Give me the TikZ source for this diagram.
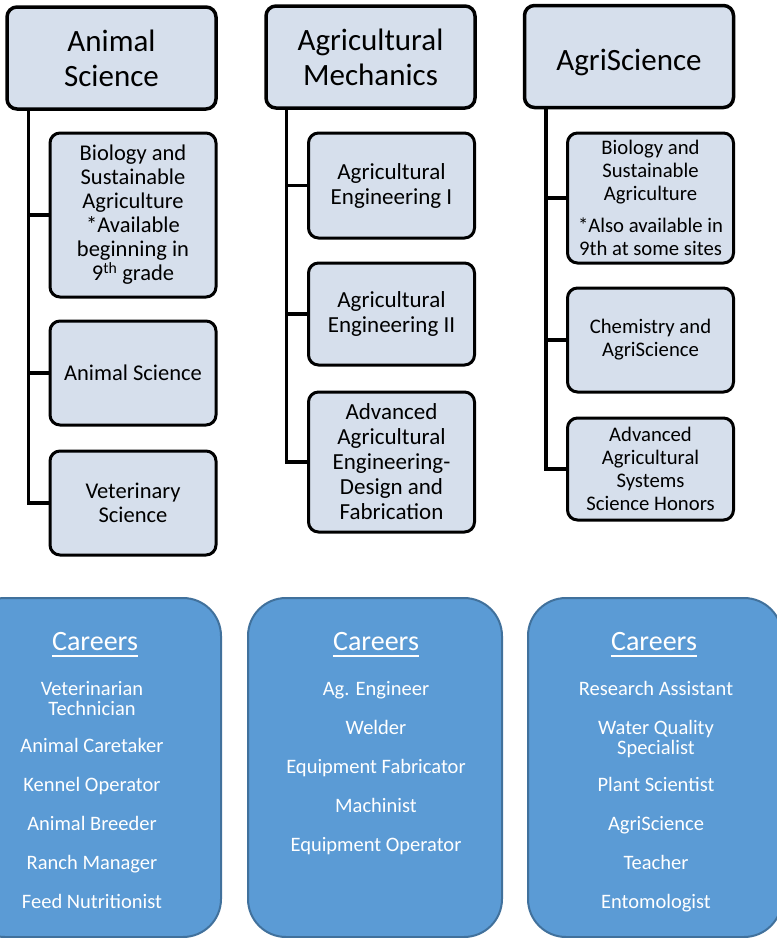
\documentclass[tikz,border=0pt]{standalone}
\usepackage{fontspec}
\setmainfont{Carlito}
\definecolor{lightbox}{HTML}{D6DFEC}
\definecolor{careerfill}{HTML}{5B9BD5}
\definecolor{careerline}{HTML}{41719C}

\begin{document}
\begin{tikzpicture}[x=1pt,y=-1pt,
   head/.style={draw=black,fill=lightbox,line width=3.5pt,rounded corners=10pt,minimum width=209pt,minimum height=102pt,inner sep=0pt,align=center,font=\fontsize{31}{35}\selectfont},
   course/.style={draw=black,fill=lightbox,line width=3pt,rounded corners=10pt,minimum width=166pt,inner sep=0pt,align=center,font=\fontsize{22.5}{24}\selectfont},
   link/.style={black,line width=3.5pt},
   careerbox/.style={draw=careerline,fill=careerfill,line width=2pt,rounded corners=38pt,minimum width=254pt,minimum height=339pt},
   careertitle/.style={text=white,inner sep=0pt,anchor=base,font=\fontsize{28}{30}\selectfont},
   careerlist/.style={text=white,inner sep=0pt,anchor=north,align=center,font=\fontsize{20.5}{20}\selectfont}]
   \useasboundingbox (0,0) rectangle (777,938);
   % headers
   \node[head] (hAnimal) at (111.5,58) {Animal\\Science};
   \node[head] (hMech) at (370.5,57) {Agricultural\\Mechanics};
   \node[head,text height=27pt,text depth=0pt] (hAgri) at (629,56.5) {AgriScience};
   % courses
   \node[course,minimum height=164pt] (bioA) at (133,215) {Biology and\\Sustainable\\Agriculture\\*Available\\beginning in\\9\textsuperscript{th} grade};
   \node[course,minimum height=104pt] (anSci) at (133,373) {Animal Science};
   \node[course,minimum height=104pt] (vet) at (133,503) {Veterinary\\Science};
   \node[course,minimum height=105pt,font=\fontsize{23}{25}\selectfont] (engOne) at (391.5,185.5) {Agricultural\\Engineering I};
   \node[course,minimum height=102pt,font=\fontsize{23}{25}\selectfont] (engTwo) at (391.5,314) {Agricultural\\Engineering II};
   \node[course,minimum height=140pt,font=\fontsize{23}{25}\selectfont] (advEng) at (391.5,462) {Advanced\\Agricultural\\Engineering-\\Design and\\Fabrication};
   \node[course,minimum height=130pt,font=\fontsize{20.7}{23}\selectfont] (bioC) at (650.5,198) {Biology and\\Sustainable\\Agriculture\\[9pt]*Also available in\\9th at some sites};
   \node[course,minimum height=104pt,font=\fontsize{20.7}{23}\selectfont] (chem) at (650.5,340) {Chemistry and\\AgriScience};
   \node[course,minimum height=102pt,font=\fontsize{20.7}{23}\selectfont] (advSys) at (650.5,469) {Advanced\\Agricultural\\Systems\\Science Honors};
   % tree lines
   \draw[link] ([xshift=23pt]hAnimal.south west) |- (bioA.west);
   \draw[link] ([xshift=23pt]hAnimal.south west) |- (anSci.west);
   \draw[link] ([xshift=23pt]hAnimal.south west) |- (vet.west);
   \draw[link] ([xshift=22pt]hMech.south west) |- (engOne.west);
   \draw[link] ([xshift=22pt]hMech.south west) |- (engTwo.west);
   \draw[link] ([xshift=22pt]hMech.south west) |- (advEng.west);
   \draw[link] ([xshift=23pt]hAgri.south west) |- (bioC.west);
   \draw[link] ([xshift=23pt]hAgri.south west) |- (chem.west);
   \draw[link] ([xshift=23pt]hAgri.south west) |- (advSys.west);
   % careers
   \node[careerbox] (carA) at (94,767.5) {};
   \node[careerbox] (carM) at (375,767.5) {};
   \node[careerbox] (carS) at (655,767.5) {};
   \node[careertitle] (titleA) at (95,650) {Careers};
   \node[careertitle] (titleM) at (376,650) {Careers};
   \node[careertitle] (titleS) at (654,650) {Careers};
   \draw[white,line width=2pt] ([yshift=-6pt]titleA.base west) -- ([yshift=-6pt]titleA.base east);
   \draw[white,line width=2pt] ([yshift=-6pt]titleM.base west) -- ([yshift=-6pt]titleM.base east);
   \draw[white,line width=2pt] ([yshift=-6pt]titleS.base west) -- ([yshift=-6pt]titleS.base east);
   \node[careerlist] (listA) at (92,681) {Veterinarian\\Technician\\[17pt]Animal Caretaker\\[19pt]Kennel Operator\\[19pt]Animal Breeder\\[19pt]Ranch Manager\\[19pt]Feed Nutritionist};
   \node[careerlist] (listM) at (376,681) {Ag. Engineer\\[19pt]Welder\\[19pt]Equipment Fabricator\\[19pt]Machinist\\[19pt]Equipment Operator};
   \node[careerlist] (listS) at (656,681) {Research Assistant\\[19pt]Water Quality\\Specialist\\[17pt]Plant Scientist\\[19pt]AgriScience\\[19pt]Teacher\\[19pt]Entomologist};
\end{tikzpicture}
\end{document}
